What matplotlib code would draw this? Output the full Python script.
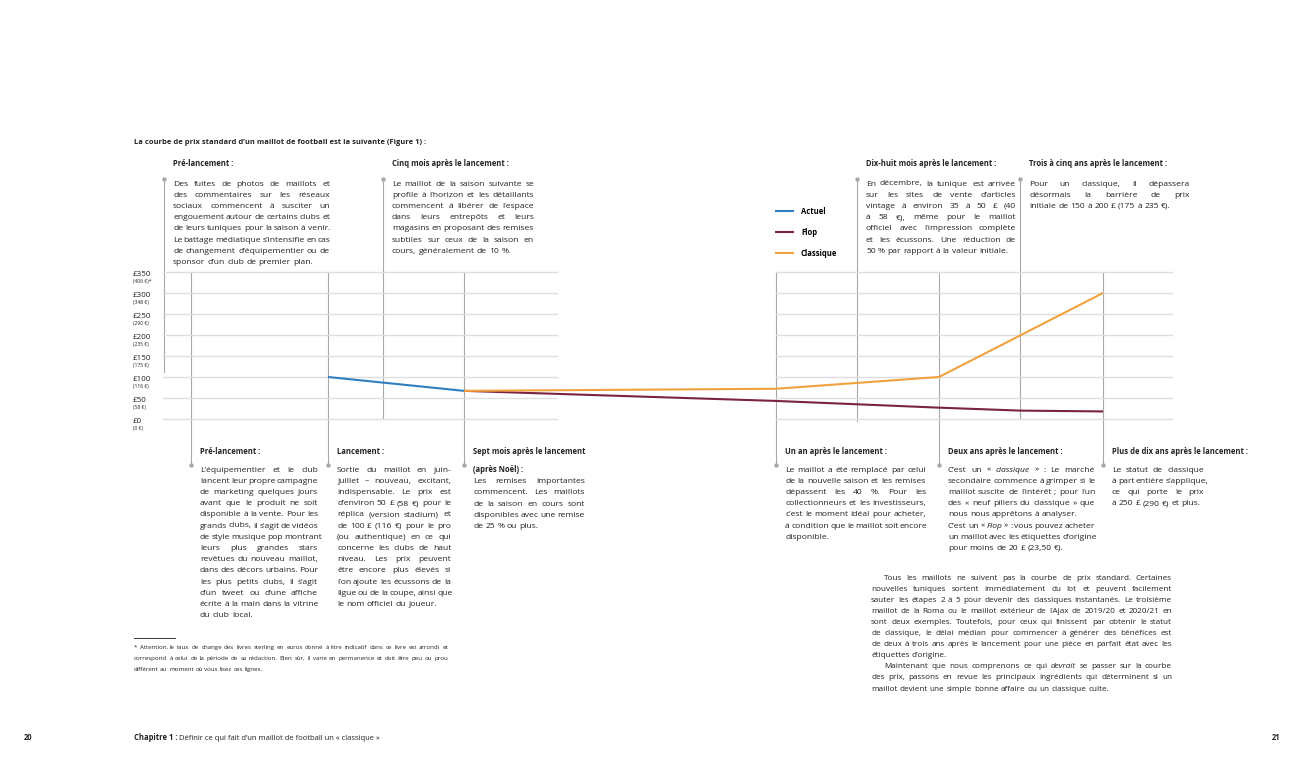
import matplotlib
matplotlib.use("Agg")
import matplotlib.pyplot as plt

FONT = "Open Sans"
plt.rcParams["font.family"] = [FONT, "DejaVu Sans"]

# --- data -------------------------------------------------------------
# one entry per vertical marker of the timeline (top and bottom notes)
stage_names = ["Pré-lancement (haut)", "Pré-lancement", "Lancement", "Cinq mois",
               "Sept mois", "Un an", "Dix-huit mois", "Deux ans",
               "Trois à cinq ans", "Plus de dix ans"]
actuel = [None, None, 100, None, 67, None, None, None, None, None]
flop = [None, None, None, None, 67, 43, None, 27, 20, 18]
classique = [None, None, None, None, 67, 72, None, 100, None, 300]

price_ticks = [0, 50, 100, 150, 200, 250, 300, 350]
gbp_labels = ["£0", "£50", "£100", "£150", "£200", "£250", "£300", "£350"]
eur_labels = ["(0 €)", "(58 €)", "(116 €)", "(175 €)", "(235 €)", "(290 €)",
              "(348 €)", "(406 €)*"]

# --- layout (page pixels) --------------------------------------------
W, H = 1300, 763
stage_x = [164, 191, 328, 383, 464, 776, 857, 939, 1020, 1103]
plot_top, plot_bottom = 272, 419
grid_spans = [(163, 557), (776, 1172)]
BODY = 6.1

BLUE = "#2f7fc0"
MAROON = "#7b2341"
ORANGE = "#f2a23c"
GRID = "#dedede"
VLINE = "#a8a8a8"
TXT = "#222222"

fig = plt.figure(figsize=(W / 100, H / 100), dpi=100)
page = fig.add_axes([0, 0, 1, 1])
page.set_xlim(0, W)
page.set_ylim(H, 0)
page.axis("off")

ax = fig.add_axes([0, (H - plot_bottom) / H, 1, (plot_bottom - plot_top) / H])
ax.set_xlim(0, W)
ax.set_ylim(0, 350)
ax.axis("off")

renderer = fig.canvas.get_renderer()


def measure(t):
    return t.get_window_extent(renderer=renderer).width


def space_width(size, weight="normal"):
    a = page.text(0, 0, "a a", fontsize=size, fontweight=weight)
    b = page.text(0, 0, "aa", fontsize=size, fontweight=weight)
    w = measure(a) - measure(b)
    a.remove()
    b.remove()
    return w


def block(x, y, width, paragraphs, size=BODY, lh=11.2, indent=0,
          weight="normal", justify=True):
    sp = space_width(size, weight)
    for para in paragraphs:
        for i, line in enumerate(para):
            texts = []
            for w in line.split(" "):
                style = "normal"
                if w.startswith("_"):
                    w, style = w[1:], "italic"
                texts.append(page.text(0, y, w, fontsize=size, fontstyle=style,
                                       fontweight=weight, color=TXT,
                                       va="baseline", ha="left"))
            ws = [measure(t) for t in texts]
            ind = indent if i == 0 else 0
            last = i == len(para) - 1
            gap = sp
            if justify and not last and len(texts) > 1:
                gap = max((width - ind - sum(ws)) / (len(texts) - 1), sp * 0.6)
            cx = x + ind
            for t, tw in zip(texts, ws):
                t.set_x(cx)
                cx += tw + gap
            y += lh
    return y


# --- grid -------------------------------------------------------------
for v in price_ticks:
    for x0, x1 in grid_spans:
        ax.plot([x0, x1], [v, v], color=GRID, lw=1.0, zorder=1, clip_on=False)
for v, g, e in zip(price_ticks, gbp_labels, eur_labels):
    ax.annotate(g, (133, v), xytext=(0, -2.9), textcoords="offset points",
                fontsize=5.8, color=TXT, va="baseline", ha="left")
    ax.annotate(e, (133, v), xytext=(0, -7.8), textcoords="offset points",
                fontsize=3.6, color=TXT, va="baseline", ha="left")

# --- series -----------------------------------------------------------
handles = []
for name, vals, col in [("Actuel", actuel, BLUE), ("Flop", flop, MAROON),
                        ("Classique", classique, ORANGE)]:
    xs = [stage_x[i] for i, v in enumerate(vals) if v is not None]
    ys = [v for v in vals if v is not None]
    h, = ax.plot(xs, ys, color=col, lw=1.5, zorder=3, clip_on=False,
                 solid_capstyle="butt", label=name)
    handles.append(h)

ax.legend(handles=handles, loc="upper left",
          bbox_to_anchor=(775 / W, 1 - 207 / H), bbox_transform=fig.transFigure,
          frameon=False, prop={"family": [FONT], "weight": "bold", "size": 5.5},
          handlelength=2.5, handletextpad=0.9, labelspacing=1.55,
          borderaxespad=0, borderpad=0)

# --- annotations --------------------------------------------------------
top_notes = [
    (0, 372, 157, "Pré-lancement :", [[
        "Des fuites de photos de maillots et",
        "des commentaires sur les réseaux",
        "sociaux commencent à susciter un",
        "engouement autour de certains clubs et",
        "de leurs tuniques pour la saison à venir.",
        "Le battage médiatique s’intensifie en cas",
        "de changement d’équipementier ou de",
        "sponsor d’un club de premier plan."]]),
    (3, plot_bottom, 142, "Cinq mois après le lancement :", [[
        "Le maillot de la saison suivante se",
        "profile à l’horizon et les détaillants",
        "commencent à libérer de l’espace",
        "dans leurs entrepôts et leurs",
        "magasins en proposant des remises",
        "subtiles sur ceux de la saison en",
        "cours, généralement de 10 %."]]),
    (6, plot_bottom + 2, 150, "Dix-huit mois après le lancement :", [[
        "En décembre, la tunique est arrivée",
        "sur les sites de vente d’articles",
        "vintage à environ 35 à 50 £ (40",
        "à 58 €), même pour le maillot",
        "officiel avec l’impression complète",
        "et les écussons. Une réduction de",
        "50 % par rapport à la valeur initiale."]]),
    (8, plot_bottom, 161, "Trois à cinq ans après le lancement :", [[
        "Pour un classique, il dépassera",
        "désormais la barrière de prix",
        "initiale de 150 à 200 £ (175 à 235 €)."]]),
]
for idx, y_end, width, head, paras in top_notes:
    x = stage_x[idx]
    page.plot([x, x], [179, y_end], color=VLINE, lw=0.8, zorder=2)
    page.plot(x, 179, "o", ms=3.2, color=VLINE, mec="none", zorder=2)
    page.text(x + 9, 165.5, head, fontsize=5.5, fontweight="bold", color=TXT,
              va="baseline")
    block(x + 9, 185.5, width, paras)

bottom_notes = [
    (1, 118, "Pré-lancement :", None, [[
        "L’équipementier et le club",
        "lancent leur propre campagne",
        "de marketing quelques jours",
        "avant que le produit ne soit",
        "disponible à la vente. Pour les",
        "grands clubs, il s’agit de vidéos",
        "de style musique pop montrant",
        "leurs plus grandes stars",
        "revêtues du nouveau maillot,",
        "dans des décors urbains. Pour",
        "les plus petits clubs, il s’agit",
        "d’un tweet ou d’une affiche",
        "écrite à la main dans la vitrine",
        "du club local."]]),
    (2, 114, "Lancement :", None, [[
        "Sortie du maillot en juin-",
        "juillet – nouveau, excitant,",
        "indispensable. Le prix est",
        "d’environ 50 £ (58 €) pour le",
        "réplica (version stadium) et",
        "de 100 £ (116 €) pour le pro",
        "(ou authentique) en ce qui",
        "concerne les clubs de haut",
        "niveau. Les prix peuvent",
        "être encore plus élevés si",
        "l’on ajoute les écussons de la",
        "ligue ou de la coupe, ainsi que",
        "le nom officiel du joueur."]]),
    (4, 112, "Sept mois après le lancement", "(après Noël) :", [[
        "Les remises importantes",
        "commencent. Les maillots",
        "de la saison en cours sont",
        "disponibles avec une remise",
        "de 25 % ou plus."]]),
    (5, 141, "Un an après le lancement :", None, [[
        "Le maillot a été remplacé par celui",
        "de la nouvelle saison et les remises",
        "dépassent les 40 %. Pour les",
        "collectionneurs et les investisseurs,",
        "c’est le moment idéal pour acheter,",
        "à condition que le maillot soit encore",
        "disponible."]]),
    (7, 147, "Deux ans après le lancement :", None, [[
        "C’est un « _classique » : Le marché",
        "secondaire commence à grimper si le",
        "maillot suscite de l’intérêt ; pour l’un",
        "des « neuf piliers du classique » que",
        "nous nous apprêtons à analyser."], [
        "C’est un « _Flop » : vous pouvez acheter",
        "un maillot avec les étiquettes d’origine",
        "pour moins de 20 £ (23,50 €)."]]),
    (9, 92, "Plus de dix ans après le lancement :", None, [[
        "Le statut de classique",
        "à part entière s’applique,",
        "ce qui porte le prix",
        "à 250 £ (290 €) et plus."]]),
]
for idx, width, head, sub, paras in bottom_notes:
    x = stage_x[idx]
    page.plot([x, x], [plot_top, 465], color=VLINE, lw=0.8, zorder=2)
    page.plot(x, 465, "o", ms=3.2, color=VLINE, mec="none", zorder=2)
    page.text(x + 9, 453.5, head, fontsize=5.5, fontweight="bold", color=TXT,
              va="baseline")
    y0 = 471.5
    if sub:
        page.text(x + 9, y0, sub, fontsize=5.5, fontweight="bold", color=TXT,
                  va="baseline")
        y0 += 11.6
    block(x + 9, y0, width, paras)

# --- page text ----------------------------------------------------------
page.text(134, 143.5,
          "La courbe de prix standard d’un maillot de football est la suivante (Figure 1) :",
          fontsize=5.4, fontweight="bold", color=TXT, va="baseline")

block(871, 579.5, 301, [[
    "Tous les maillots ne suivent pas la courbe de prix standard. Certaines",
    "nouvelles tuniques sortent immédiatement du lot et peuvent facilement",
    "sauter les étapes 2 à 5 pour devenir des classiques instantanés. Le troisième",
    "maillot de la Roma ou le maillot extérieur de l’Ajax de 2019/20 et 2020/21 en",
    "sont deux exemples. Toutefois, pour ceux qui finissent par obtenir le statut",
    "de classique, le délai médian pour commencer à générer des bénéfices est",
    "de deux à trois ans après le lancement pour une pièce en parfait état avec les",
    "étiquettes d’origine."], [
    "Maintenant que nous comprenons ce qui _devrait se passer sur la courbe",
    "des prix, passons en revue les principaux ingrédients qui déterminent si un",
    "maillot devient une simple bonne affaire ou un classique culte."]],
    size=5.9, lh=11.1, indent=13)

page.plot([134, 175], [638, 638], color="#333333", lw=0.7)
block(134, 649, 314, [[
    "* Attention, le taux de change des livres sterling en euros donné à titre indicatif dans ce livre est arrondi et",
    "correspond à celui de la période de sa rédaction. Bien sûr, il varie en permanence et doit être peu ou prou",
    "différent au moment où vous lisez ces lignes."]], size=4.4, lh=11.0)

page.text(24, 740.5, "20", fontsize=5.5, fontweight="bold", color=TXT, va="baseline")
t = page.text(134, 740.5, "Chapitre 1 :", fontsize=5.5, fontweight="bold",
              color=TXT, va="baseline")
page.text(134 + measure(t) + 2, 740.5,
          "Définir ce qui fait d’un maillot de football un « classique »",
          fontsize=5.5, color=TXT, va="baseline")
page.text(1280, 740.5, "21", fontsize=5.5, fontweight="bold", color=TXT,
          va="baseline", ha="right")

fig.savefig("out.png", dpi=100, facecolor="white")
